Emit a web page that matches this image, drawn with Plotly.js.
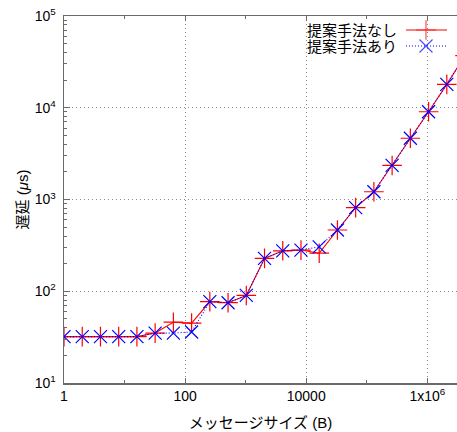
<!DOCTYPE html>
<html>
<head>
<meta charset="utf-8">
<script src="https://cdn.plot.ly/plotly-3.0.1.min.js"></script>
<style>html,body{margin:0;padding:0;background:#fff;}#chart{width:457px;height:432px;}</style>
</head>
<body>
<div id="chart"></div>
<script>
// ---- data ----
const messageSizes = [1, 2, 4, 8, 16, 32, 64, 128, 256, 512, 1024, 2048, 4096, 8192, 16384, 32768, 65536, 131072, 262144, 524288, 1048576, 2097152, 4194304];
const latencyWithout = [32, 32, 32, 32, 32, 35, 46, 45, 77, 75, 90, 228, 276, 281, 260, 465, 815, 1215, 2350, 4650, 9050, 18000, 37000];
const latencyWith    = [32, 32, 32, 32, 32, 35, 35, 36, 77, 75, 90, 228, 276, 281, 305, 465, 815, 1215, 2350, 4650, 9050, 18000, 37000];
const seriesNames = ['提案手法なし', '提案手法あり'];
const xTickVals = [1, 100, 10000, 1000000];
const xTickText = ['1', '100', '10000', '1x10<sup>6</sup>'];
const xMinorVals = [10, 1000, 100000];
const yTickVals = [10, 100, 1000, 10000, 100000];
const yTickText = ['10<sup>1</sup>', '10<sup>2</sup>', '10<sup>3</sup>', '10<sup>4</sup>', '10<sup>5</sup>'];

// ---- layout constants ----
const W = 457, H = 432;
const M = {l: 64, r: 0, t: 16, b: 49};
const FONT = 'Liberation Sans, Arial, Noto Sans CJK JP, sans-serif';
const AXIS_COLOR = '#6a6a6a';
const GRID_COLOR = '#8a8a8a';
const RED = '#ff0000', BLUE = '#0000ff';

const yMinor = [];
for (let d = 10; d < 100000; d *= 10) for (let k = 2; k <= 9; k++) yMinor.push(d * k);

// legend key positions (pixel coordinates within the plot area)
const LEG = {textRight: 399, rowY: [30, 46], lineX0: 406, lineX1: 447, markX: 426};

const traces = [
  {x: messageSizes, y: latencyWithout, name: seriesNames[0], type: 'scatter', mode: 'lines+markers',
   line: {color: RED, width: 1.1},
   marker: {symbol: 'cross-thin-open', size: 14, line: {color: RED, width: 1.2}, color: RED}},
  {x: messageSizes, y: latencyWith, name: seriesNames[1], type: 'scatter', mode: 'lines+markers',
   line: {color: BLUE, width: 1.1, dash: '1px,2px'},
   marker: {symbol: 'x-thin-open', size: 13, line: {color: BLUE, width: 1.2}, color: BLUE}},
  // legend keys
  {x: [LEG.lineX0, LEG.markX, LEG.lineX1], y: [LEG.rowY[0], LEG.rowY[0], LEG.rowY[0]], xaxis: 'x2', yaxis: 'y2',
   mode: 'lines+markers', line: {color: RED, width: 1.1},
   marker: {symbol: 'cross-thin-open', size: [0, 14, 0], line: {color: RED, width: 1.2}}, hoverinfo: 'skip', cliponaxis: false},
  {x: [LEG.lineX0, LEG.markX, LEG.lineX1], y: [LEG.rowY[1], LEG.rowY[1], LEG.rowY[1]], xaxis: 'x2', yaxis: 'y2',
   mode: 'lines+markers', line: {color: BLUE, width: 1.1, dash: '1px,2px'},
   marker: {symbol: 'x-thin-open', size: [0, 13, 0], line: {color: BLUE, width: 1.2}}, hoverinfo: 'skip', cliponaxis: false}
];

const layout = {
  width: W, height: H, margin: M, showlegend: false,
  paper_bgcolor: '#fff', plot_bgcolor: '#fff',
  font: {family: FONT, size: 14, color: '#000'},
  xaxis: {
    type: 'log', range: [0, 6.49], tickmode: 'array', tickvals: xTickVals, ticktext: xTickText,
    ticks: 'inside', ticklen: 5, tickwidth: 1, tickcolor: AXIS_COLOR,
    showline: true, linecolor: AXIS_COLOR, linewidth: 1.5, mirror: 'ticks',
    showgrid: true, gridcolor: GRID_COLOR, gridwidth: 1, griddash: '1px,3px', zeroline: false,
    minor: {tickmode: 'array', tickvals: xMinorVals, ticks: 'inside', ticklen: 3, tickcolor: AXIS_COLOR, showgrid: false},
    tickfont: {family: FONT, size: 14, color: '#000'},
    title: {text: 'メッセージサイズ (B)', font: {family: FONT, size: 15, color: '#000'}, standoff: 14},
    automargin: false
  },
  yaxis: {
    type: 'log', range: [1, 5], tickmode: 'array', tickvals: yTickVals, ticktext: yTickText,
    ticks: 'inside', ticklen: 6, tickwidth: 1, tickcolor: AXIS_COLOR,
    showline: true, linecolor: AXIS_COLOR, linewidth: 1.5, mirror: false,
    showgrid: true, gridcolor: GRID_COLOR, gridwidth: 1, griddash: '1px,3px', zeroline: false,
    minor: {tickmode: 'array', tickvals: yMinor, ticks: 'inside', ticklen: 3, tickcolor: AXIS_COLOR, showgrid: false},
    tickfont: {family: FONT, size: 14, color: '#000'},
    ticklabelstandoff: 4,
    title: {text: '遅延 (<i>μ</i>s)', font: {family: FONT, size: 15, color: '#000'}, standoff: 2},
    automargin: false
  },
  xaxis2: {overlaying: 'x', range: [M.l, W - M.r], visible: false, fixedrange: true},
  yaxis2: {overlaying: 'y', range: [H - M.b, M.t], visible: false, fixedrange: true},
  annotations: LEG.rowY.map((yy, i) => ({
    xref: 'x2', yref: 'y2', x: LEG.textRight, y: yy, xanchor: 'right', yanchor: 'middle',
    text: seriesNames[i], showarrow: false, font: {family: FONT, size: 15, color: '#000'}
  }))
};

Plotly.newPlot('chart', traces, layout, {staticPlot: true, displayModeBar: false});
</script>
</body>
</html>
